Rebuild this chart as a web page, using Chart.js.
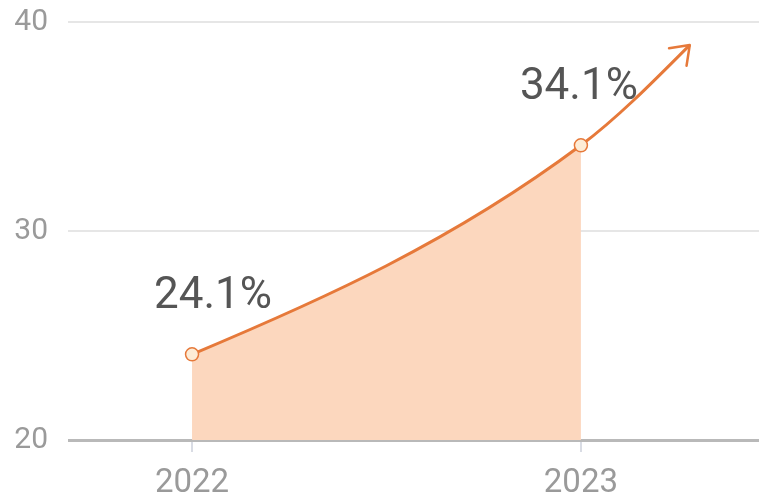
<!DOCTYPE html>
<html><head><meta charset="utf-8">
<script src="https://cdn.jsdelivr.net/npm/chart.js@4/dist/chart.umd.min.js"></script>
<style>html,body{margin:0;padding:0;background:#fff}#wrap{width:759px;height:497px;position:relative}</style>
</head><body><div id="wrap"><canvas id="c"></canvas></div>
<script>
const years = [2022, 2023];
const rates = [24.1, 34.1];
const rateLabels = ['24.1%', '34.1%'];
const arrowTipYear = 2023.28;
const arrowTipValue = 38.9;
const yTicks = [20, 30, 40];
const xTicks = [2022, 2023];

const ORANGE = '#e6793a';
const FILL = '#fcd7be';

const trendPoints = years.map((y, i) => ({ x: y, y: rates[i] })).concat([{ x: arrowTipYear, y: arrowTipValue }]);
const areaPoints = years.map((y, i) => ({ x: y, y: rates[i] }));

function setSeg(a, b, ka, kb) {
  const dx = b.x - a.x, chord = (b.y - a.y) / dx;
  a.cp2x = a.x + dx / 3; a.cp2y = a.y + ka * chord * dx / 3;
  b.cp1x = b.x - dx / 3; b.cp1y = b.y - kb * chord * dx / 3;
  return kb * chord;
}
const curvePlugin = {
  id: 'curve',
  beforeDatasetsDraw(chart) {
    chart.getSortedVisibleDatasetMetas().forEach(meta => {
      const line = meta.dataset;
      if (!line) return;
      line.updateControlPoints(chart.chartArea, 'x');
      const p = meta.data;
      const s1 = setSeg(p[0], p[1], 0.78, 1.39);
      if (p.length > 2) {
        const a = p[1], b = p[2];
        const dx = b.x - a.x, chord = (b.y - a.y) / dx;
        a.cp2x = a.x + dx / 3; a.cp2y = a.y + s1 * dx / 3;
        b.cp1x = b.x - dx / 3; b.cp1y = b.y - 1.09 * chord * dx / 3;
      }
    });
  }
};
const arrowPlugin = {
  id: 'arrow',
  afterDatasetsDraw(chart) {
    const p = chart.getDatasetMeta(0).data;
    const tip = p[p.length - 1];
    const ang = Math.atan2(tip.y - tip.cp1y, tip.x - tip.cp1x);
    const len = 21, spread = 36 * Math.PI / 180;
    const ctx = chart.ctx;
    ctx.save();
    ctx.strokeStyle = ORANGE; ctx.lineWidth = 2.5; ctx.lineCap = 'round'; ctx.lineJoin = 'round';
    ctx.beginPath();
    ctx.moveTo(tip.x - len * Math.cos(ang - spread), tip.y - len * Math.sin(ang - spread));
    ctx.lineTo(tip.x, tip.y);
    ctx.lineTo(tip.x - len * Math.cos(ang + spread), tip.y - len * Math.sin(ang + spread));
    ctx.stroke();
    ctx.restore();
  }
};
const labelOffsetX = [21, -2];
const labelPlugin = {
  id: 'vlabels',
  afterDatasetsDraw(chart) {
    const p = chart.getDatasetMeta(1).data;
    const ctx = chart.ctx;
    ctx.save();
    ctx.font = '44px Roboto';
    ctx.fillStyle = '#555555';
    ctx.textAlign = 'center';
    ctx.textBaseline = 'alphabetic';
    p.forEach((pt, i) => ctx.fillText(rateLabels[i], pt.x + labelOffsetX[i], pt.y - 46));
    ctx.restore();
  }
};

new Chart(document.getElementById('c'), {
  type: 'line',
  data: {
    datasets: [
      {
        data: trendPoints,
        borderColor: ORANGE, borderWidth: 3, tension: 0.4, fill: false,
        pointRadius: [6.5, 6.5, 0], pointHoverRadius: 0,
        pointBackgroundColor: '#fdecd6', pointBorderColor: ORANGE, pointBorderWidth: 1.5
      },
      {
        data: areaPoints,
        borderWidth: 0, borderColor: 'rgba(0,0,0,0)', tension: 0.4,
        fill: 'start', backgroundColor: FILL, pointRadius: 0
      }
    ]
  },
  options: {
    responsive: true, maintainAspectRatio: false, animation: false,
    events: [],
    layout: { autoPadding: false, padding: { top: 22, right: 0, left: 0, bottom: 0 } },
    plugins: { legend: { display: false }, tooltip: { enabled: false } },
    scales: {
      x: {
        type: 'linear', min: 2021.681, max: 2023.458,
        afterBuildTicks: s => { s.ticks = xTicks.map(v => ({ value: v })); },
        afterFit: s => { s.height = 57; s.paddingLeft = 0; s.paddingRight = 0; },
        border: { display: false },
        grid: { drawOnChartArea: false, drawTicks: true, tickLength: 12, tickColor: '#d9dce4', lineWidth: 2 },
        ticks: { padding: 12, color: '#9a9a9a', font: { family: 'Roboto', size: 33 }, maxRotation: 0, autoSkip: false,
          callback: v => String(v) }
      },
      y: {
        min: 20, max: 40,
        afterBuildTicks: s => { s.ticks = yTicks.map(v => ({ value: v })); },
        afterFit: s => { s.width = 68; s.paddingTop = 0; s.paddingBottom = 0; },
        border: { display: false },
        grid: { drawTicks: false, color: c => c.tick && c.tick.value === 20 ? '#b9b9b9' : '#e6e6e6', lineWidth: c => c.tick && c.tick.value === 20 ? 3 : 2 },
        ticks: { padding: 20, color: '#9a9a9a', font: { family: 'Roboto', size: 30 } }
      }
    }
  },
  plugins: [curvePlugin, arrowPlugin, labelPlugin]
});
</script></body></html>
